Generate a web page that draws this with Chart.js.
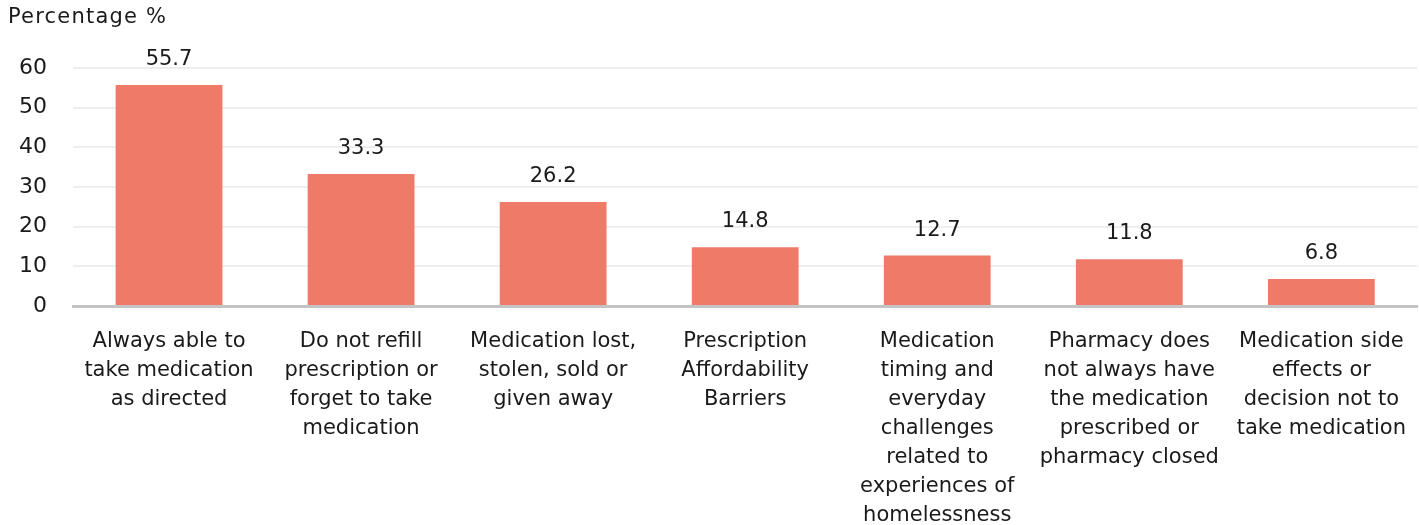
<!DOCTYPE html>
<html>
<head>
<meta charset="utf-8">
<script src="https://cdn.jsdelivr.net/npm/chart.js@4"></script>
<style>
  html, body { margin: 0; padding: 0; background: #fff; }
  #wrap { width: 1419px; height: 525px; position: relative; }
</style>
</head>
<body>
<div id="wrap"><canvas id="chart"></canvas></div>
<script>
// categories (one array per wrapped label)
const categories = [
    ['Always able to', 'take medication', 'as directed'],
    ['Do not refill', 'prescription or', 'forget to take', 'medication'],
    ['Medication lost,', 'stolen, sold or', 'given away'],
    ['Prescription', 'Affordability', 'Barriers'],
    ['Medication', 'timing and', 'everyday', 'challenges', 'related to', 'experiences of', 'homelessness'],
    ['Pharmacy does', 'not always have', 'the medication', 'prescribed or', 'pharmacy closed'],
    ['Medication side', 'effects or', 'decision not to', 'take medication']
];
const percentages = [55.7, 33.3, 26.2, 14.8, 12.7, 11.8, 6.8];
const yTicks = [0, 10, 20, 30, 40, 50, 60];

const FONT = "'DejaVu Sans', sans-serif";

// value labels above bars + axis title
const labelsPlugin = {
    id: 'labelsPlugin',
    afterDatasetsDraw(chart) {
        const ctx = chart.ctx;
        const meta = chart.getDatasetMeta(0);
        ctx.save();
        ctx.font = '21px ' + FONT;
        ctx.fillStyle = '#1a1a1a';
        ctx.textAlign = 'center';
        ctx.textBaseline = 'bottom';
        meta.data.forEach((bar, i) => {
            ctx.fillText(percentages[i].toFixed(1), bar.x, bar.y - 15);
        });
        ctx.textAlign = 'left';
        ctx.textBaseline = 'middle';
        ctx.font = '21px ' + FONT;
        ctx.letterSpacing = '1.2px';
        ctx.fillText('Percentage %', 8, 18);
        ctx.restore();
    }
};

new Chart(document.getElementById('chart'), {
    type: 'bar',
    data: {
        labels: categories,
        datasets: [{
            data: percentages,
            backgroundColor: '#ee7a67',
            barPercentage: 0.556,
            categoryPercentage: 1
        }]
    },
    options: {
        responsive: true,
        maintainAspectRatio: false,
        animation: false,
        layout: { padding: { top: 68, right: 0, left: 0, bottom: 0 } },
        plugins: { legend: { display: false }, tooltip: { enabled: false } },
        scales: {
            x: {
                grid: { display: false },
                border: { display: true, color: '#c4c4c4', width: 3 },
                ticks: {
                    color: '#1a1a1a',
                    font: { family: FONT, size: 21, lineHeight: '29px' },
                    padding: 13,
                    maxRotation: 0,
                    autoSkip: false
                },
                afterFit(scale) { scale.height = 219; }
            },
            y: {
                min: 0,
                max: 60,
                afterBuildTicks(scale) { scale.ticks = yTicks.map(v => ({ value: v })); },
                grid: {
                    color: ctx => ctx.tick && ctx.tick.value === 0 ? 'rgba(0,0,0,0)' : '#eeeeee',
                    lineWidth: 2,
                    drawTicks: false
                },
                border: { display: false },
                ticks: {
                    color: '#1a1a1a',
                    font: { family: FONT, size: 22 },
                    padding: 26
                },
                afterFit(scale) { scale.width = 73; }
            }
        }
    },
    plugins: [labelsPlugin]
});
</script>
</body>
</html>
